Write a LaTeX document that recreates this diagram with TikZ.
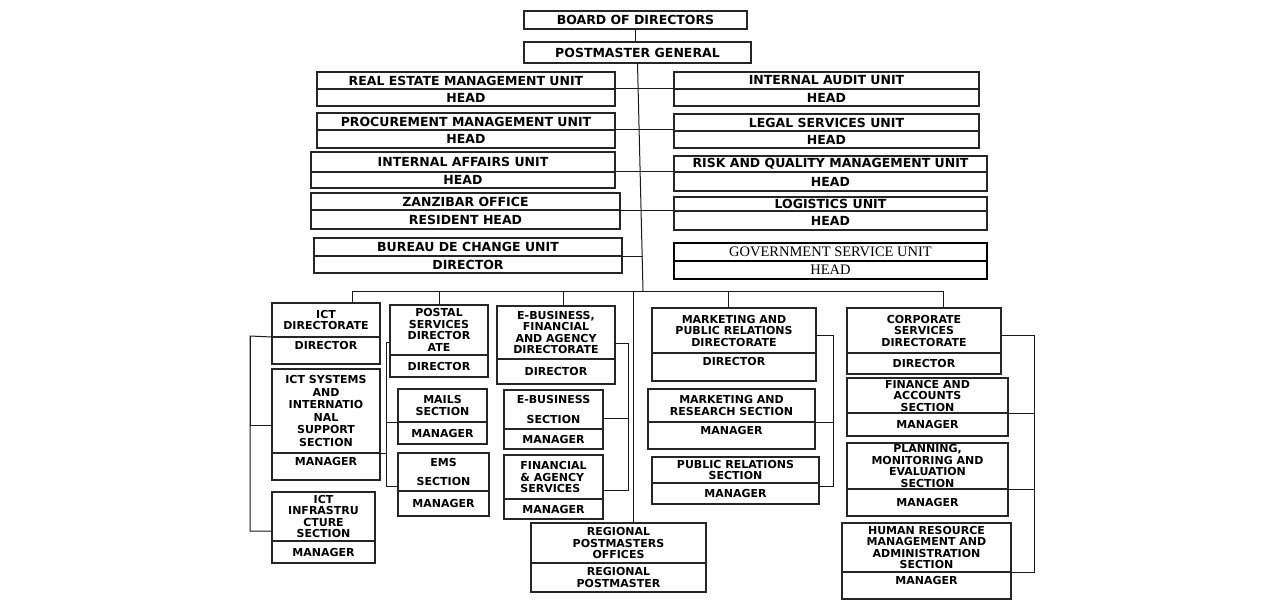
\documentclass[tikz,border=0pt]{standalone}
\usepackage{fontspec}
\usepackage{tikz}
\newfontfamily\boxfont{DejaVu Sans}
\newfontfamily\serfont{Liberation Serif}
\newcommand{\topfont}{\boxfont\bfseries\fontsize{12.5}{14}\selectfont}
\newcommand{\lowfont}{\boxfont\bfseries\fontsize{11}{11.5}\selectfont}
\newcommand{\widefont}{\boxfont\bfseries\fontsize{11}{12.5}\selectfont}
\newcommand{\govfont}{\serfont\fontsize{14.5}{16}\selectfont}
\begin{document}
\begin{tikzpicture}[x=1pt,y=-1pt]
		\tikzstyle{every node}+=[inner sep=0pt, outer sep=0pt]
		\tikzstyle{part}=[draw=black!85, line width=1.1pt, anchor=north west, align=center]
		\tikzstyle{unitpart}=[part, font=\topfont]
		\tikzstyle{secpart}=[part, font=\lowfont]
		\tikzstyle{govpart}=[part, draw=black, line width=2.4pt, font=\govfont]
		\tikzstyle{lifted}=[text depth=11pt]
		\tikzstyle{link}=[draw=black!90, line width=1pt]
		\useasboundingbox (0,0) rectangle (1284,604);
		\node[unitpart, minimum width=223, minimum height=18] (board) at (524,11) {BOARD OF DIRECTORS};
		\node[unitpart, minimum width=227, minimum height=21] (pmg) at (524,42) {POSTMASTER GENERAL};
		\node[unitpart, minimum width=298, minimum height=17] (remT) at (317,72) {REAL ESTATE MANAGEMENT UNIT};
		\node[unitpart, minimum width=298, minimum height=17] (remB) at (317,89) {HEAD};
		\node[unitpart, minimum width=298, minimum height=17] (procT) at (317,113) {PROCUREMENT MANAGEMENT UNIT};
		\node[unitpart, minimum width=298, minimum height=18] (procB) at (317,130) {HEAD};
		\node[unitpart, minimum width=304, minimum height=20] (iauT) at (311,152) {INTERNAL AFFAIRS UNIT};
		\node[unitpart, minimum width=304, minimum height=16] (iauB) at (311,172) {HEAD};
		\node[unitpart, minimum width=309, minimum height=17] (zanT) at (311,193) {ZANZIBAR OFFICE};
		\node[unitpart, minimum width=309, minimum height=19] (zanB) at (311,210) {RESIDENT HEAD};
		\node[unitpart, minimum width=308, minimum height=18] (bdcT) at (314,238) {BUREAU DE CHANGE UNIT};
		\node[unitpart, minimum width=308, minimum height=17] (bdcB) at (314,256) {DIRECTOR};
		\node[unitpart, minimum width=305, minimum height=17] (iaT) at (674,72) {INTERNAL AUDIT UNIT};
		\node[unitpart, minimum width=305, minimum height=17] (iaB) at (674,89) {HEAD};
		\node[unitpart, minimum width=305, minimum height=17] (legalT) at (674,114) {LEGAL SERVICES UNIT};
		\node[unitpart, minimum width=305, minimum height=17] (legalB) at (674,131) {HEAD};
		\node[unitpart, minimum width=313, minimum height=16] (riskT) at (674,156) {RISK AND QUALITY MANAGEMENT UNIT};
		\node[unitpart, minimum width=313, minimum height=19] (riskB) at (674,172) {HEAD};
		\node[unitpart, minimum width=313, minimum height=14] (logT) at (674,197) {LOGISTICS UNIT};
		\node[unitpart, minimum width=313, minimum height=19] (logB) at (674,211) {HEAD};
		\node[govpart, minimum width=313, minimum height=18] (govT) at (674,243) {GOVERNMENT SERVICE UNIT};
		\node[govpart, minimum width=313, minimum height=18] (govB) at (674,261) {HEAD};
		\node[secpart, minimum width=108, minimum height=34] (ictT) at (272,303) {ICT\\DIRECTORATE};
		\node[secpart, lifted, minimum width=108, minimum height=27] (ictB) at (272,337) {DIRECTOR};
		\node[secpart, font=\widefont, minimum width=108, minimum height=84] (icsT) at (272,369) {ICT SYSTEMS\\AND\\INTERNATIO\\NAL\\SUPPORT\\SECTION};
		\node[secpart, lifted, minimum width=108, minimum height=27] (icsB) at (272,453) {MANAGER};
		\node[secpart, minimum width=103, minimum height=49] (icinT) at (272,492) {ICT\\INFRASTRU\\CTURE\\SECTION};
		\node[secpart, minimum width=103, minimum height=22] (icinB) at (272,541) {MANAGER};
		\node[secpart, minimum width=98, minimum height=50] (psdT) at (390,305) {POSTAL\\SERVICES\\DIRECTOR\\ATE};
		\node[secpart, minimum width=98, minimum height=22] (psdB) at (390,355) {DIRECTOR};
		\node[secpart, minimum width=89, minimum height=33] (mailT) at (398,389) {MAILS\\SECTION};
		\node[secpart, minimum width=89, minimum height=22] (mailB) at (398,422) {MANAGER};
		\node[secpart, minimum width=91, minimum height=38] (emsT) at (398,453) {EMS\\[8pt]SECTION};
		\node[secpart, minimum width=91, minimum height=25] (emsB) at (398,491) {MANAGER};
		\node[secpart, minimum width=118, minimum height=53] (ebdT) at (497,306) {E-BUSINESS,\\FINANCIAL\\AND AGENCY\\DIRECTORATE};
		\node[secpart, minimum width=118, minimum height=25] (ebdB) at (497,359) {DIRECTOR};
		\node[secpart, minimum width=99, minimum height=39] (ebsT) at (504,390) {E-BUSINESS\\[9pt]SECTION};
		\node[secpart, minimum width=99, minimum height=20] (ebsB) at (504,429) {MANAGER};
		\node[secpart, align=left, minimum width=99, minimum height=44] (fasT) at (504,455) {FINANCIAL\\\& AGENCY\\SERVICES};
		\node[secpart, minimum width=99, minimum height=20] (fasB) at (504,499) {MANAGER};
		\node[secpart, minimum width=175, minimum height=40] (rpoT) at (531,523) {REGIONAL\\POSTMASTERS\\OFFICES};
		\node[secpart, minimum width=175, minimum height=29] (rpoB) at (531,563) {REGIONAL\\POSTMASTER};
		\node[secpart, minimum width=164, minimum height=45] (mprT) at (652,308) {MARKETING AND\\PUBLIC RELATIONS\\DIRECTORATE};
		\node[secpart, lifted, minimum width=164, minimum height=28] (mprB) at (652,353) {DIRECTOR};
		\node[secpart, minimum width=167, minimum height=33] (mrsT) at (648,389) {MARKETING AND\\RESEARCH SECTION};
		\node[secpart, lifted, minimum width=167, minimum height=27] (mrsB) at (648,422) {MANAGER};
		\node[secpart, minimum width=167, minimum height=26] (prsT) at (652,457) {PUBLIC RELATIONS\\SECTION};
		\node[secpart, minimum width=167, minimum height=21] (prsB) at (652,483) {MANAGER};
		\node[secpart, minimum width=154, minimum height=45] (csdT) at (847,308) {CORPORATE\\SERVICES\\DIRECTORATE};
		\node[secpart, minimum width=154, minimum height=21] (csdB) at (847,353) {DIRECTOR};
		\node[secpart, minimum width=161, minimum height=35] (faaT) at (847,378) {FINANCE AND\\ACCOUNTS\\SECTION};
		\node[secpart, minimum width=161, minimum height=23] (faaB) at (847,413) {MANAGER};
		\node[secpart, minimum width=161, minimum height=46] (pmeT) at (847,443) {PLANNING,\\MONITORING AND\\EVALUATION\\SECTION};
		\node[secpart, minimum width=161, minimum height=27] (pmeB) at (847,489) {MANAGER};
		\node[secpart, minimum width=169, minimum height=49] (hraT) at (842,523) {HUMAN RESOURCE\\MANAGEMENT AND\\ADMINISTRATION\\SECTION};
		\node[secpart, lifted, minimum width=169, minimum height=27] (hraB) at (842,572) {MANAGER};
		\coordinate (trunk) at (643,291);
		\coordinate (busW) at (352,291);
		\coordinate (busE) at (943,291);
		\coordinate (ictrail) at (250,336);
		\coordinate (psdrail) at (386,342);
		\coordinate (ebdrail) at (628,343);
		\coordinate (mprrail) at (833,335);
		\coordinate (csdrail) at (1034,335);
		\draw[link] (board.south) -- (board.south |- pmg.north);
		\draw[link] (pmg.south) -- (trunk);
		\draw[link] (remT.south east) -- (remT.south east -| iaT.west);
		\draw[link] (procT.south east) -- (procT.south east -| legalT.west);
		\draw[link] (iauT.south east) -- (iauT.south east -| riskT.west);
		\draw[link] (zanT.south east) -- (zanT.south east -| logT.west);
		\draw[link] (bdcT.south east) -- (bdcT.south east -| trunk);
		\draw[link] (busW) -- (busE);
		\draw[link] (busW) -- (busW |- ictT.north);
		\draw[link] (psdT.north |- busW) -- (psdT.north);
		\draw[link] ([xshift=7pt]ebdT.north |- busW) -- ([xshift=7pt]ebdT.north);
		\draw[link] ([xshift=15pt]rpoT.north |- busW) -- ([xshift=15pt]rpoT.north);
		\draw[link] ([xshift=-6pt]mprT.north |- busW) -- ([xshift=-6pt]mprT.north);
		\draw[link] (busE) -- (busE |- csdT.north);
		\draw[link] (ictT.south west) -- (ictrail) |- ([yshift=10pt]icinT.south west);
		\draw[link] ([yshift=-14pt]icsT.west) -| (ictrail);
		\draw[link] ([yshift=-12pt]psdT.west) -- (psdrail) |- ([yshift=5pt]emsT.south west);
		\draw[link] (psdrail) |- (mailT.south west);
		\draw[link] (icsT.south east) -- (icsT.south east -| psdrail);
		\draw[link] ([yshift=-10.5pt]ebdT.east) -- (ebdrail) |- ([yshift=9pt]fasT.south east);
		\draw[link] (ebdrail) |- ([yshift=-8.5pt]ebsT.east);
		\draw[link] ([yshift=-4.5pt]mprT.east) -- (mprrail) |- ([yshift=-3pt]prsT.south east);
		\draw[link] (mprrail) |- (mrsT.south east);
		\draw[link] ([yshift=-4.5pt]csdT.east) -- (csdrail) |- (hraT.south east);
		\draw[link] (csdrail) |- (faaT.south east);
		\draw[link] (csdrail) |- (pmeT.south east);
\end{tikzpicture}
\end{document}
